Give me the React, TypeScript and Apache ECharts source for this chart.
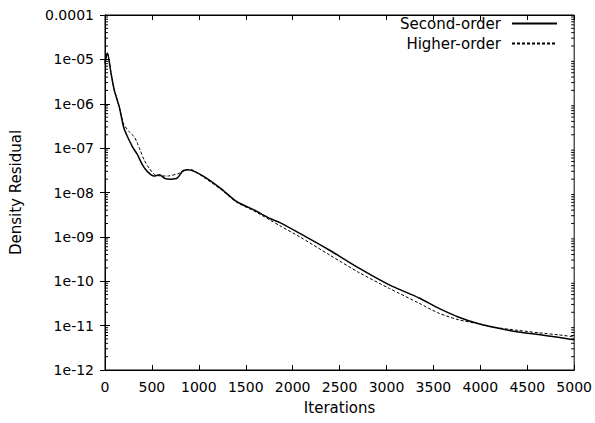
import React, { useEffect, useRef } from "react";
import * as echarts from "echarts";

// Second-order scheme residual history
const secondIter = [0, 25, 64, 99, 152, 198, 240, 293, 346, 399, 452, 522, 580, 640, 700, 770, 823, 876, 950, 1052, 1229, 1405, 1582, 1758, 1864, 2076, 2394, 2712, 3030, 3347, 3559, 3771, 3983, 4195, 4407, 4619, 4831, 5000];
const secondVal = [8e-6, 1.4e-5, 4.9e-6, 2.0e-6, 8.5e-7, 3.0e-7, 1.8e-7, 1.07e-7, 7.1e-8, 4.2e-8, 2.95e-8, 2.35e-8, 2.5e-8, 2.05e-8, 2.0e-8, 2.1e-8, 2.95e-8, 3.25e-8, 3.0e-8, 2.3e-8, 1.26e-8, 6.2e-9, 4.1e-9, 2.6e-9, 2.1e-9, 1.2e-9, 5.0e-10, 1.95e-10, 8.3e-11, 4.2e-11, 2.45e-11, 1.55e-11, 1.1e-11, 8.7e-12, 7.2e-12, 6.3e-12, 5.5e-12, 4.8e-12];

// Higher-order scheme residual history
const higherIter = [0, 25, 64, 99, 152, 198, 258, 311, 339, 374, 417, 469, 540, 664, 787, 840, 911, 1052, 1229, 1405, 1582, 1758, 1864, 2076, 2394, 2712, 3030, 3347, 3559, 3771, 3983, 4195, 4407, 4619, 4831, 5000];
const higherVal = [9e-6, 1.4e-5, 5.0e-6, 2.1e-6, 8.5e-7, 3.5e-7, 2.35e-7, 1.8e-7, 1.38e-7, 9.1e-8, 5.4e-8, 3.55e-8, 2.45e-8, 2.35e-8, 2.7e-8, 3.2e-8, 3.3e-8, 2.2e-8, 1.2e-8, 6.0e-9, 3.9e-9, 2.4e-9, 1.78e-9, 1.0e-9, 3.9e-10, 1.55e-10, 6.9e-11, 3.2e-11, 1.9e-11, 1.35e-11, 1.1e-11, 8.9e-12, 7.8e-12, 6.9e-12, 6.2e-12, 5.6e-12];

const seriesNames = ["Second-order", "Higher-order"];
const yTickLabels = ["1e-12", "1e-11", "1e-10", "1e-09", "1e-08", "1e-07", "1e-06", "1e-05", "0.0001"];
const decades = [1e-12, 1e-11, 1e-10, 1e-9, 1e-8, 1e-7, 1e-6, 1e-5];
const minorMultipliers = [2, 3, 4, 5, 6, 7, 8, 9];

const FONT = "DejaVu Sans";

export default function App() {
  const ref = useRef<HTMLDivElement>(null);
  useEffect(() => {
    if (!ref.current) return;
    const chart = echarts.init(ref.current, undefined, { renderer: "svg" });
    const minorData: number[][] = [];
    decades.forEach((d) => minorMultipliers.forEach((m) => minorData.push([0, d * m])));

    const axisLine = { show: true, lineStyle: { color: "#000", width: 1 } };
    const xBase = {
      type: "value",
      min: 0,
      max: 5000,
      interval: 500,
      splitLine: { show: false },
      axisLine,
      axisTick: { show: true, inside: true, length: 5, lineStyle: { color: "#000" } },
    };
    const yBase = {
      type: "log",
      logBase: 10,
      min: 1e-12,
      max: 1e-4,
      interval: 1,
      splitLine: { show: false },
      axisLine,
      axisTick: { show: true, inside: true, length: 5, lineStyle: { color: "#000" } },
    };

    chart.setOption({
      animation: false,
      backgroundColor: "#fff",
      textStyle: { fontFamily: FONT },
      grid: { left: 104, right: 19, top: 15, bottom: 53, show: true, borderColor: "#000", borderWidth: 1 },
      legend: {
        orient: "vertical",
        right: 32,
        top: 11,
        align: "right",
        itemWidth: 45,
        itemHeight: 14,
        itemGap: 5,
        itemStyle: { opacity: 0 },
        textStyle: { fontFamily: FONT, fontSize: 15, color: "#000", padding: [0, 6, 0, 0] },
        data: seriesNames,
      },
      xAxis: [
        {
          ...xBase,
          position: "bottom",
          name: "Iterations",
          nameLocation: "middle",
          nameGap: 30,
          nameTextStyle: { fontFamily: FONT, fontSize: 15, color: "#000" },
          axisLabel: { fontFamily: FONT, fontSize: 14, color: "#000", margin: 10, formatter: (v: number) => String(v) },
        },
        { ...xBase, position: "top", axisLabel: { show: false } },
      ],
      yAxis: [
        {
          ...yBase,
          position: "left",
          name: "Density Residual",
          nameLocation: "middle",
          nameGap: 82,
          nameTextStyle: { fontFamily: FONT, fontSize: 15, color: "#000" },
          axisLabel: {
            fontFamily: FONT,
            fontSize: 14,
            color: "#000",
            margin: 11,
            formatter: (v: number) => {
              const idx = Math.round(Math.log10(v)) + 12;
              return yTickLabels[idx] ?? "";
            },
          },
        },
        { ...yBase, position: "right", axisLabel: { show: false } },
      ],
      series: [
        {
          name: seriesNames[0],
          type: "line",
          xAxisIndex: 0,
          yAxisIndex: 0,
          data: secondIter.map((x, i) => [x, secondVal[i]]),
          symbol: "none",
          smooth: 0.25,
          lineStyle: { color: "#000", width: 1.5, type: "solid" },
          itemStyle: { color: "#000" },
        },
        {
          name: seriesNames[1],
          type: "line",
          xAxisIndex: 0,
          yAxisIndex: 0,
          data: higherIter.map((x, i) => [x, higherVal[i]]),
          symbol: "none",
          smooth: 0.25,
          lineStyle: { color: "#000", width: 1, type: [3, 2] },
          itemStyle: { color: "#000" },
        },
        {
          type: "custom",
          xAxisIndex: 0,
          yAxisIndex: 0,
          silent: true,
          data: minorData,
          renderItem: (params: any, api: any) => {
            const v = api.value(1);
            const pL = api.coord([0, v]);
            const pR = api.coord([5000, v]);
            return {
              type: "group",
              children: [
                { type: "line", shape: { x1: pL[0], y1: pL[1], x2: pL[0] + 3, y2: pL[1] }, style: { stroke: "#000", lineWidth: 1 } },
                { type: "line", shape: { x1: pR[0] - 3, y1: pR[1], x2: pR[0], y2: pR[1] }, style: { stroke: "#000", lineWidth: 1 } },
              ],
            };
          },
        },
      ],
    });
    return () => chart.dispose();
  }, []);
  return <div ref={ref} style={{ position: "fixed", left: 0, top: 0, width: 595, height: 423 }} />;
}
